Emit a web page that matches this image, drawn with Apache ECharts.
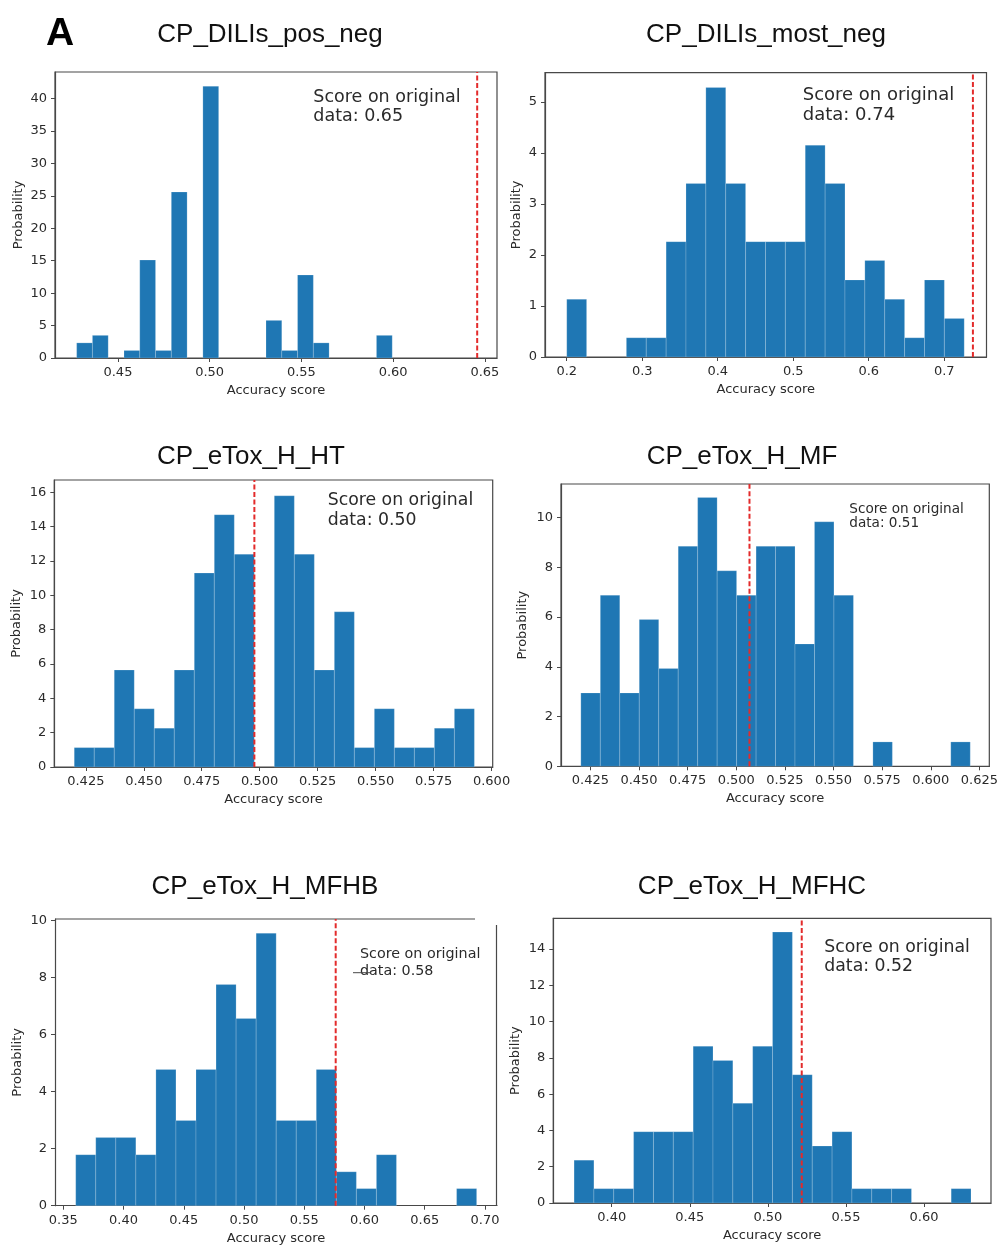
<!DOCTYPE html>
<html><head><meta charset="utf-8">
<script src="https://cdn.jsdelivr.net/npm/echarts@6/dist/echarts.min.js"></script>
<style>html,body{margin:0;padding:0;background:#fff}#c{width:1001px;height:1246px}</style>
</head><body><div id="c"></div>
<script>
// ---------------- data ----------------
const panelTitles = ['CP_DILIs_pos_neg','CP_DILIs_most_neg','CP_eTox_H_HT','CP_eTox_H_MF','CP_eTox_H_MFHB','CP_eTox_H_MFHC'];
const originalScores = [0.6458, 0.738, 0.4977, 0.5068, 0.5761, 0.5217];
const originalScoreText = ['0.65','0.74','0.50','0.51','0.58','0.52'];
// histogram bin range [first edge, last edge] (20 equal bins each)
const binRanges = [[0.4275,0.5995],[0.2,0.7265],[0.42,0.5926],[0.4201,0.6203],[0.3603,0.6931],[0.3759,0.6301]];
// probability density of each bin
const density_DILIs_pos_neg  = [2.33,3.49,0,1.16,15.1,1.16,25.6,0,41.9,0,0,0,5.8,1.16,12.8,2.33,0,0,0,3.49];
const density_DILIs_most_neg = [1.13,0,0,0.377,0.377,2.26,3.40,5.28,3.40,2.26,2.26,2.26,4.15,3.40,1.51,1.89,1.13,0.377,1.51,0.755];
const density_eTox_H_HT      = [1.13,1.13,5.65,3.39,2.26,5.65,11.3,14.7,12.4,0,15.8,12.4,5.65,9.04,1.13,3.39,1.13,1.13,2.26,3.39];
const density_eTox_H_MF      = [2.95,6.88,2.95,5.90,3.93,8.85,10.81,7.86,6.88,8.85,8.85,4.92,9.83,6.88,0,0.98,0,0,0,0.98];
const density_eTox_H_MFHB    = [1.79,2.39,2.39,1.79,4.78,2.99,4.78,7.76,6.57,9.56,2.99,2.99,4.78,1.19,0.60,1.79,0,0,0,0.60];
const density_eTox_H_MFHC    = [2.36,0.79,0.79,3.93,3.93,3.93,8.64,7.86,5.50,8.64,14.93,7.07,3.14,3.93,0.79,0.79,0.79,0,0,0.79];
const densities = [density_DILIs_pos_neg,density_DILIs_most_neg,density_eTox_H_HT,density_eTox_H_MF,density_eTox_H_MFHB,density_eTox_H_MFHC];
// tick labels
const xTicks_DILIs_pos_neg  = ['0.45','0.50','0.55','0.60','0.65'];
const xTicks_DILIs_most_neg = ['0.2','0.3','0.4','0.5','0.6','0.7'];
const xTicks_eTox_H_HT      = ['0.425','0.450','0.475','0.500','0.525','0.550','0.575','0.600'];
const xTicks_eTox_H_MF      = ['0.425','0.450','0.475','0.500','0.525','0.550','0.575','0.600','0.625'];
const xTicks_eTox_H_MFHB    = ['0.35','0.40','0.45','0.50','0.55','0.60','0.65','0.70'];
const xTicks_eTox_H_MFHC    = ['0.40','0.45','0.50','0.55','0.60'];
const xTicks = [xTicks_DILIs_pos_neg,xTicks_DILIs_most_neg,xTicks_eTox_H_HT,xTicks_eTox_H_MF,xTicks_eTox_H_MFHB,xTicks_eTox_H_MFHC];
const yTicks_DILIs_pos_neg  = ['0','5','10','15','20','25','30','35','40'];
const yTicks_DILIs_most_neg = ['0','1','2','3','4','5'];
const yTicks_eTox_H_HT      = ['0','2','4','6','8','10','12','14','16'];
const yTicks_eTox_H_MF      = ['0','2','4','6','8','10'];
const yTicks_eTox_H_MFHB    = ['0','2','4','6','8','10'];
const yTicks_eTox_H_MFHC    = ['0','2','4','6','8','10','12','14'];
const yTicks = [yTicks_DILIs_pos_neg,yTicks_DILIs_most_neg,yTicks_eTox_H_HT,yTicks_eTox_H_MF,yTicks_eTox_H_MFHB,yTicks_eTox_H_MFHC];

// ---------------- layout ----------------
const layout = [
  {l:55,  t:72,    w:442,   h:286,   xMin:0.4157,xMax:0.6566,yMax:44.1, yGap:30, tx:270, ty:35,  ax:313.3, ay:107,   afs:17.5, alh:19.5},
  {l:545, t:72.7,  w:441.5, h:284.3, xMin:0.1712,xMax:0.756, yMax:5.57, yGap:22, tx:766, ty:35,  ax:802.7, ay:105.5, afs:18,   alh:20.5},
  {l:54.3,t:480,   w:438.4, h:287,   xMin:0.4114,xMax:0.6005,yMax:16.72,yGap:31, tx:251, ty:457, ax:327.7, ay:510.3, afs:17.3, alh:19.7},
  {l:561, t:484,   w:434,   h:282.3, xMin:0.4099,xMax:0.6301,yMax:11.35,yGap:32, tx:742, ty:457, ax:849.3, ay:516.5, afs:13.6, alh:14.6},
  {l:55,  t:919,   w:442,   h:286.7, xMin:0.3431,xMax:0.710, yMax:10.06,yGap:31, tx:265, ty:887, ax:360,   ay:962.8, afs:14.3, alh:17.3},
  {l:553.3,t:918.3,w:437.7, h:284.7, xMin:0.3626,xMax:0.6429,yMax:15.69,yGap:31, tx:752, ty:887, ax:824.3, ay:957,   afs:17.3, alh:19.4}
];
const SPINE = '#484848', TXT = '#2a2a2a', BAR = '#1f77b4', RED = '#e32b2b';
const MPL = 'DejaVu Sans';

function renderItem(params, api) {
  const h = api.value(2);
  if (!(h > 0)) return null;
  const p0 = api.coord([api.value(0), h]);
  const p1 = api.coord([api.value(1), 0]);
  return {type:'rect', shape:{x:p0[0], y:p0[1], width:p1[0]-p0[0], height:p1[1]-p0[1]},
          style:{fill:BAR, stroke:'rgba(255,255,255,0.3)', lineWidth:0.6}};
}
function dec(s){ const i = s.indexOf('.'); return i < 0 ? 0 : s.length - i - 1; }

const grid = [], xAxis = [], yAxis = [], series = [], graphic = [];
layout.forEach((L, i) => {
  grid.push({left:L.l, top:L.t, width:L.w, height:L.h, show:i !== 4, borderColor:SPINE, borderWidth:1.2, backgroundColor:'transparent'});
  const xv = xTicks[i].map(Number), xd = dec(xTicks[i][0]);
  const yv = yTicks[i].map(Number);
  xAxis.push({type:'value', gridIndex:i, min:L.xMin, max:L.xMax,
    name:'Accuracy score', nameLocation:'middle', nameGap:26,
    nameTextStyle:{fontFamily:MPL, fontSize:13, color:TXT},
    axisLine:{show:true, onZero:false, lineStyle:{color:SPINE, width:1.2}},
    axisTick:{show:true, length:4, customValues:xv, lineStyle:{color:SPINE, width:1}},
    axisLabel:{customValues:xv, margin:8, fontFamily:MPL, fontSize:13, color:TXT, formatter:v => Number(v).toFixed(xd)},
    splitLine:{show:false}});
  yAxis.push({type:'value', gridIndex:i, min:0, max:L.yMax,
    name:'Probability', nameLocation:'middle', nameGap:L.yGap,
    nameTextStyle:{fontFamily:MPL, fontSize:13, color:TXT},
    axisLine:{show:true, onZero:false, lineStyle:{color:SPINE, width:1.2}},
    axisTick:{show:true, length:4, customValues:yv, lineStyle:{color:SPINE, width:1}},
    axisLabel:{customValues:yv, margin:8, fontFamily:MPL, fontSize:13, color:TXT, formatter:v => String(Math.round(v))},
    splitLine:{show:false}});
  const [lo, hi] = binRanges[i];
  const bw = (hi - lo) / densities[i].length;
  series.push({type:'custom', xAxisIndex:i, yAxisIndex:i, renderItem, clip:false,
    data: densities[i].map((d, k) => [lo + k*bw, lo + (k+1)*bw, d]),
    encode:{x:[0,1], y:2}});
  // vertical dashed line at the score on the original data (spans the full axes height)
  series.push({type:'line', xAxisIndex:i, yAxisIndex:i, symbol:'none', silent:true, z:5,
    data:[[originalScores[i], 0], [originalScores[i], L.yMax]],
    lineStyle:{color:RED, type:[5,2.5], width:2}});
  graphic.push({type:'text', x:L.tx, y:L.ty, style:{text:panelTitles[i], font:'26px "Liberation Sans", Arial, sans-serif', fill:'#111', align:'center', verticalAlign:'middle'}});
  graphic.push({type:'text', x:L.ax, y:L.ay, style:{text:'Score on original\ndata: ' + originalScoreText[i], font:L.afs + 'px "DejaVu Sans"', lineHeight:L.alh, fill:TXT, align:'left', verticalAlign:'middle'}});
});
graphic.push({type:'text', x:60, y:34, style:{text:'A', font:'bold 39px "Liberation Sans", Arial, sans-serif', fill:'#000', align:'center', verticalAlign:'middle'}});
// broken frame of the MFHB panel (as in the figure)
graphic.push({type:'line', shape:{x1:55, y1:919, x2:475, y2:919}, style:{stroke:SPINE, lineWidth:1.2}});
graphic.push({type:'line', shape:{x1:496.5, y1:925, x2:496.5, y2:1205.7}, style:{stroke:SPINE, lineWidth:1.2}});
graphic.push({type:'line', shape:{x1:353, y1:972.7, x2:371, y2:972.7}, style:{stroke:SPINE, lineWidth:1}});

const chart = echarts.init(document.getElementById('c'), null, {renderer:'canvas'});
chart.setOption({animation:false, backgroundColor:'#fff', grid, xAxis, yAxis, series, graphic});
</script></body></html>
